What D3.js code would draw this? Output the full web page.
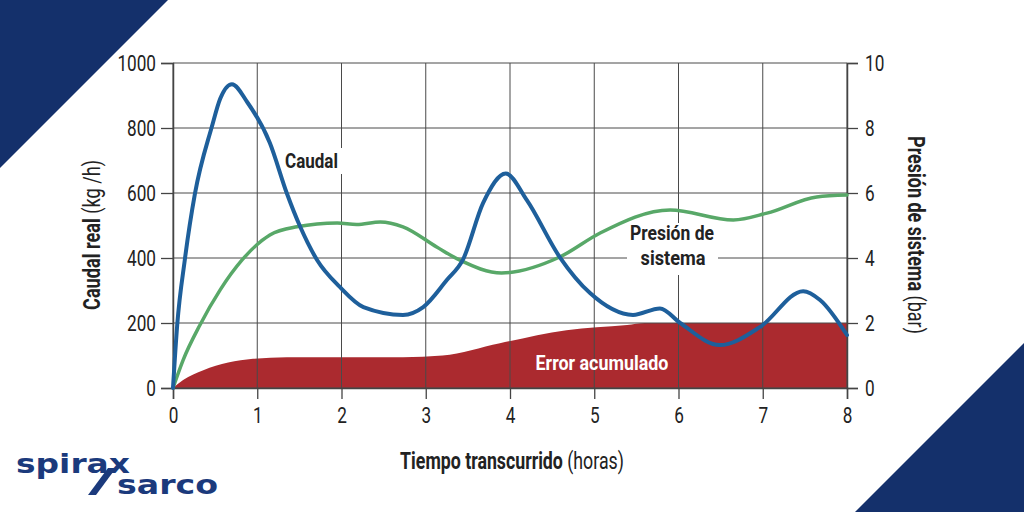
<!DOCTYPE html>
<html><head><meta charset="utf-8">
<script src="https://cdn.jsdelivr.net/npm/d3@7"></script>
<style>
html,body{margin:0;padding:0;background:#fff;}
svg{display:block;}
text{font-family:Roboto,"DejaVu Sans Condensed",sans-serif;fill:#222;}
</style></head>
<body>
<svg id="c" width="1024" height="512"></svg>
<script>
// ---- data ----
const xTicks = [0,1,2,3,4,5,6,7,8];
const leftTicks = [0,200,400,600,800,1000];
const rightTicks = [0,2,4,6,8,10];

const caudalT = [0,0.05,0.14,0.26,0.46,0.56,0.70,0.88,1.15,1.35,1.51,1.71,1.98,2.26,2.73,2.97,3.25,3.44,3.68,3.95,4.2,4.59,4.95,5.46,5.78,6.02,6.49,6.97,7.48,7.68,8];
const caudalV = [0,194,394,597,803,890,935,880,754,600,496,394,311,249,225,249,332,394,569,660,578,403,292,225,245,200,132,188,298,271,163];

const presionT = [0,0.12,0.32,0.56,0.82,1.15,1.47,1.95,2.18,2.46,2.73,3.13,3.4,3.9,4.59,5.07,5.9,6.65,7.05,7.64,8];
const presionV = [0,0.86,1.94,3.02,3.94,4.71,4.96,5.08,5.03,5.11,4.96,4.34,3.94,3.54,4.03,4.77,5.48,5.17,5.38,5.88,5.94];

const errorT = [0,0.12,0.36,0.95,1.35,2.73,3.2,3.88,4.67,5.39,5.6,8];
const errorV = [0,25,55,90,95,95,100,138,178,194,200,200];

// ---- setup ----
const svg = d3.select("#c");
const x = d3.scaleLinear().domain([0,8]).range([173,847]);
const yL = d3.scaleLinear().domain([0,1000]).range([388,63]);
const yR = d3.scaleLinear().domain([0,10]).range([388,63]);
const navy = "#14306b";

// condensed text helper: scales horizontally to a target width
function ctext(parent, o){
  const g = parent.append("g");
  const t = g.append("text").attr("text-anchor", o.anchor||"start").attr("font-size", o.size);
  if (o.fill) t.style("fill", o.fill);
  o.parts.forEach(p => t.append("tspan").attr("font-weight", p.w||"normal").text(p.t));
  const L = t.node().getComputedTextLength();
  const s = o.width / L;
  g.attr("transform", `translate(${o.x},${o.y}) rotate(${o.rot||0}) scale(${s},1)`);
  return g;
}

// corner triangles
svg.append("path").attr("d","M0,0 L168,0 L0,168 Z").attr("fill",navy);
svg.append("path").attr("d","M1024,343 L1024,512 L855,512 Z").attr("fill",navy);

// error area
const errData = errorT.map((t,i)=>[t,errorV[i]]);
svg.append("path").datum(errData)
  .attr("d", d3.area().x(d=>x(d[0])).y0(yL(0)).y1(d=>yL(d[1])).curve(d3.curveMonotoneX))
  .attr("fill","#ab2a2f");

// grid
const grid = svg.append("g").attr("stroke","#4a4a4a").attr("stroke-width",1);
xTicks.forEach(t=>{ grid.append("line").attr("x1",x(t)).attr("x2",x(t)).attr("y1",yL(0)).attr("y2",yL(1000)); });
leftTicks.forEach(v=>{ grid.append("line").attr("x1",x(0)).attr("x2",x(8)).attr("y1",yL(v)).attr("y2",yL(v)); });

// axes
const fs = 22;
const axL = svg.append("g").attr("transform",`translate(${x(0)},0)`)
  .call(d3.axisLeft(yL).tickValues(leftTicks).tickSize(12).tickPadding(5).tickFormat(d3.format("d")));
const axR = svg.append("g").attr("transform",`translate(${x(8)},0)`)
  .call(d3.axisRight(yR).tickValues(rightTicks).tickSize(11).tickPadding(7).tickFormat(d3.format("d")));
const axB = svg.append("g").attr("transform",`translate(0,${yL(0)})`)
  .call(d3.axisBottom(x).tickValues(xTicks).tickSize(11).tickPadding(8).tickFormat(d3.format("d")));
[axL,axR,axB].forEach(a=>{
  a.select(".domain").attr("stroke","#444").attr("stroke-width",1.5);
  a.selectAll(".tick line").attr("stroke","#444").attr("stroke-width",1.3);
  a.selectAll(".tick text").attr("font-size",fs).attr("fill","#2a2a2a")
   .style("font-family",'Roboto,sans-serif')
   .each(function(){ const L=this.getComputedTextLength(); d3.select(this).attr("textLength",L*0.78).attr("lengthAdjust","spacingAndGlyphs"); });
});

// label backgrounds
svg.append("rect").attr("x",280).attr("y",148).attr("width",62).attr("height",26).attr("fill","#fff");
svg.append("rect").attr("x",627).attr("y",223).attr("width",91).attr("height",52).attr("fill","#fff");

// in-chart labels
ctext(svg,{x:285,y:168,size:21,parts:[{t:"Caudal",w:"bold"}],width:53});
ctext(svg,{x:672,y:240,anchor:"middle",size:21,parts:[{t:"Presión de",w:"bold"}],width:84});
ctext(svg,{x:673,y:265,anchor:"middle",size:21,parts:[{t:"sistema",w:"bold"}],width:65});
ctext(svg,{x:602,y:370,anchor:"middle",size:21,parts:[{t:"Error acumulado",w:"bold"}],width:133,fill:"#fff"});

// lines
const presData = presionT.map((t,i)=>[t,presionV[i]]);
svg.append("path").datum(presData)
  .attr("d", d3.line().x(d=>x(d[0])).y(d=>yR(d[1])).curve(d3.curveMonotoneX))
  .attr("fill","none").attr("stroke","#58a868").attr("stroke-width",3.5).attr("stroke-linecap","round");
const caudData = caudalT.map((t,i)=>[t,caudalV[i]]);
svg.append("path").datum(caudData)
  .attr("d", d3.line().x(d=>x(d[0])).y(d=>yL(d[1])).curve(d3.curveMonotoneX))
  .attr("fill","none").attr("stroke","#1e5f9b").attr("stroke-width",4).attr("stroke-linecap","round");

// axis titles (rotated: scale applies along text direction)
ctext(svg,{x:100,y:235,rot:-90,anchor:"middle",size:23,parts:[{t:"Caudal real ",w:"bold"},{t:"(kg /h)"}],width:150});
ctext(svg,{x:908,y:235,rot:90,anchor:"middle",size:23,parts:[{t:"Presión de sistema ",w:"bold"},{t:"(bar)"}],width:198});
ctext(svg,{x:512,y:469,anchor:"middle",size:23,parts:[{t:"Tiempo transcurrido ",w:"bold"},{t:"(horas)"}],width:224});

// logo
const logoC = "#1b3a7c";
svg.append("text").attr("x",16).attr("y",473).attr("font-size",27).attr("font-weight","bold")
  .attr("textLength",114).attr("lengthAdjust","spacingAndGlyphs")
  .style("font-family",'"DejaVu Sans",sans-serif').style("fill",logoC).text("spirax");
svg.append("path").attr("d","M88,495 L96,495 L116,468 L108,468 Z").attr("fill",logoC);
svg.append("text").attr("x",117).attr("y",494).attr("font-size",27).attr("font-weight","bold")
  .attr("textLength",101).attr("lengthAdjust","spacingAndGlyphs")
  .style("font-family",'"DejaVu Sans",sans-serif').style("fill",logoC).text("sarco");
</script>
</body></html>
